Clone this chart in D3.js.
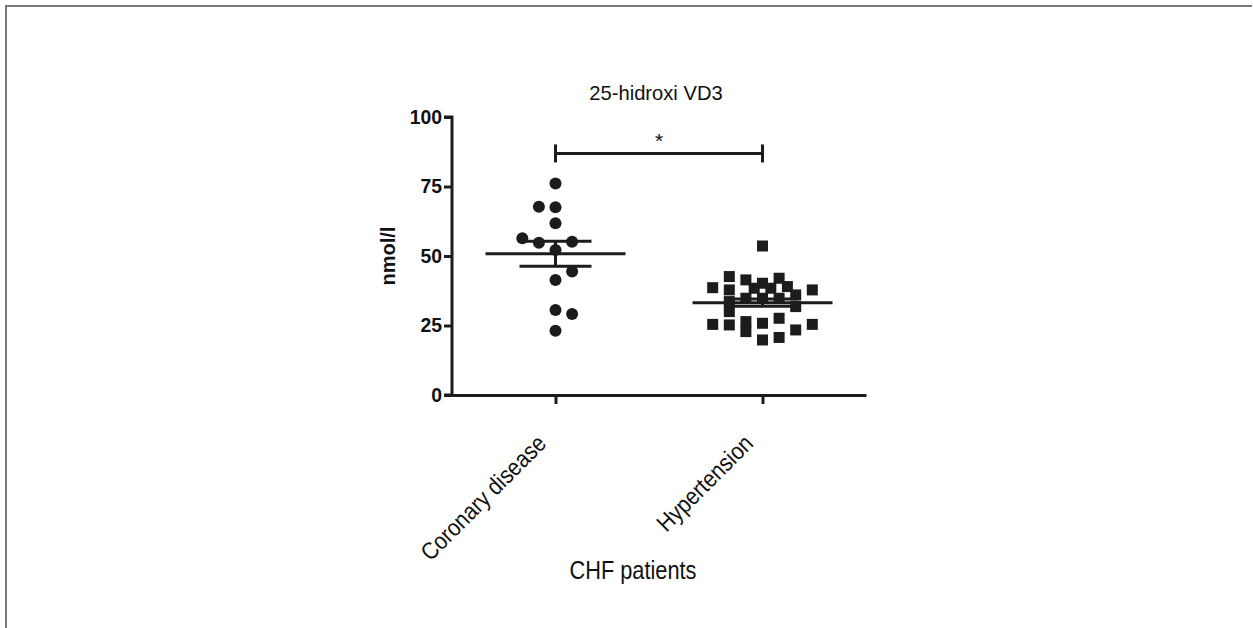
<!DOCTYPE html>
<html>
<head>
<meta charset="utf-8">
<script src="https://cdn.jsdelivr.net/npm/d3@7"></script>
<style>
  html, body { margin: 0; padding: 0; background: #fff; }
  svg { display: block; font-family: 'Liberation Sans', Arial, sans-serif; }
</style>
</head>
<body>
<script>
// groups on the x axis
const groups = ['Coronary disease', 'Hypertension']

// individual values (nmol/l) and their jitter column in the scatter
const coronaryValues = [76.1, 67.7, 67.5, 61.8, 56.4, 54.8, 55.1, 52.2, 44.4, 41.4, 30.6, 29.1, 23.1]
const coronarySlots = [0, -2, 0, 0, -4, -2, 2, 0, 2, 0, 0, 2, 0]

const hypertensionValues = [53.6, 38.6, 42.6, 37.8, 33.6, 30, 25.2, 41.4, 40.2, 42, 39, 36, 37.8, 38.4, 38.4,
  34.8, 34.8, 34.8, 31.8, 25.4, 26.4, 22.8, 25.8, 19.8, 27.6, 20.7, 23.4, 25.4]
const hypertensionSlots = [0, -6, -4, -4, -4, -4, -4, -2, 0, 2, 3, 4, 6, 1, -1,
  -2, 0, 2, 4, -6, -2, -2, 0, 0, 2, 2, 4, 6]

// mean and standard error per group
const means = [50.8, 33.2]
const sems = [4.5, 1.3]

const yTicks = [0, 25, 50, 75, 100]
const significance = { from: 'Coronary disease', to: 'Hypertension', value: 86.9, label: '*' }

const title = '25-hidroxi VD3'
const yAxisTitle = 'nmol/l'
const xAxisTitle = 'CHF patients'

const width = 1253
const height = 628
const margin = { top: 117, left: 452, right: 387, bottom: 233 }
const innerHeight = height - margin.top - margin.bottom
const innerWidth = width - margin.left - margin.right
const ink = '#1c1c1c'

// the original uses a narrow sans, so squeeze plain text a little
const condense = (sel, k) => sel.each(function () {
  const len = this.getComputedTextLength()
  d3.select(this)
    .attr('textLength', len * k)
    .attr('lengthAdjust', 'spacingAndGlyphs')
})

const svg = d3.select('body')
  .append('svg')
  .attr('width', width)
  .attr('height', height)
  .attr('viewBox', `0 0 ${width} ${height}`)

// frame around the figure (top and left only)
svg.append('path')
  .attr('d', `M6,${height} V6 H1252`)
  .attr('fill', 'none')
  .attr('stroke', '#7a7a7a')
  .attr('stroke-width', 2)

const main = svg.append('g')
  .attr('transform', `translate(${margin.left}, ${margin.top})`)

const xScale = d3.scalePoint()
  .domain(groups)
  .range([0, innerWidth])
  .padding(0.5)

const yScale = d3.scaleLinear()
  .domain([0, 100])
  .range([innerHeight, 0])

const slotScale = d3.scaleLinear()
  .domain([-1, 1])
  .range([-8.3, 8.3])

const yAxis = d3.axisLeft(yScale)
  .tickValues(yTicks)
  .tickSize(8)
  .tickPadding(2)

const xAxis = d3.axisBottom(xScale)
  .tickSize(9)
  .tickSizeOuter(0)
  .tickFormat('')

const gy = main.append('g')
  .attr('font-family', null)
  .attr('font-size', null)
  .call(yAxis)
gy.attr('font-family', null).attr('font-size', 20).attr('font-weight', 'bold')
gy.select('.domain').attr('d', `M-8,${innerHeight}H0V0H-8`)
gy.selectAll('line, path').attr('stroke', ink).attr('stroke-width', 3)
gy.selectAll('.tick text').attr('fill', '#111').call(condense, 0.97)

const gx = main.append('g')
  .attr('transform', `translate(0, ${innerHeight})`)
  .call(xAxis)
gx.selectAll('line, path').attr('stroke', ink).attr('stroke-width', 3)

// rotated group labels
main.append('g')
  .selectAll('text')
  .data(groups)
  .enter()
  .append('text')
  .attr('transform', d => `translate(${xScale(d) - 8}, ${innerHeight + 50}) rotate(-45)`)
  .attr('text-anchor', 'end')
  .attr('font-size', 24)
  .attr('fill', '#111')
  .text(d => d)
  .call(condense, 0.88)

// titles
svg.append('text')
  .attr('x', 656)
  .attr('y', 100)
  .attr('text-anchor', 'middle')
  .attr('font-size', 21)
  .attr('fill', '#111')
  .text(title)
  .call(condense, 0.96)

svg.append('text')
  .attr('transform', `translate(395, ${margin.top + innerHeight / 2}) rotate(-90)`)
  .attr('text-anchor', 'middle')
  .attr('font-size', 21)
  .attr('font-weight', 'bold')
  .attr('fill', '#111')
  .text(yAxisTitle)
  .call(condense, 0.95)

svg.append('text')
  .attr('x', 633)
  .attr('y', 579)
  .attr('text-anchor', 'middle')
  .attr('font-size', 25)
  .attr('fill', '#111')
  .text(xAxisTitle)
  .call(condense, 0.87)

// points
const coronary = coronaryValues.map((v, i) => ({ value: v, slot: coronarySlots[i] }))
const hypertension = hypertensionValues.map((v, i) => ({ value: v, slot: hypertensionSlots[i] }))

main.append('g')
  .selectAll('circle')
  .data(coronary)
  .enter()
  .append('circle')
  .attr('cx', d => xScale(groups[0]) + slotScale(d.slot / 2) * 2)
  .attr('cy', d => yScale(d.value))
  .attr('r', 6)
  .attr('fill', ink)

const side = 11
main.append('g')
  .selectAll('rect')
  .data(hypertension)
  .enter()
  .append('rect')
  .attr('x', d => xScale(groups[1]) + slotScale(d.slot / 2) * 2 - side / 2)
  .attr('y', d => yScale(d.value) - side / 2)
  .attr('width', side)
  .attr('height', side)
  .attr('fill', ink)

// mean and SEM bars
const stats = groups.map((g, i) => ({ group: g, mean: means[i], sem: sems[i] }))
const bars = main.append('g')
  .attr('stroke', ink)
  .attr('stroke-width', 3)
  .selectAll('g')
  .data(stats)
  .enter()
  .append('g')

bars.append('line')
  .attr('x1', d => xScale(d.group) - 70)
  .attr('x2', d => xScale(d.group) + 70)
  .attr('y1', d => yScale(d.mean))
  .attr('y2', d => yScale(d.mean))

bars.append('line')
  .attr('x1', d => xScale(d.group))
  .attr('x2', d => xScale(d.group))
  .attr('y1', d => yScale(d.mean - d.sem))
  .attr('y2', d => yScale(d.mean + d.sem))

bars.selectAll('.cap')
  .data(d => [d.mean - d.sem, d.mean + d.sem].map(v => ({ group: d.group, v })))
  .enter()
  .append('line')
  .attr('class', 'cap')
  .attr('x1', d => xScale(d.group) - 36)
  .attr('x2', d => xScale(d.group) + 36)
  .attr('y1', d => yScale(d.v))
  .attr('y2', d => yScale(d.v))

// significance bracket
const sig = main.append('g')
  .attr('stroke', ink)
  .attr('stroke-width', 3)
sig.append('line')
  .attr('x1', xScale(significance.from))
  .attr('x2', xScale(significance.to))
  .attr('y1', yScale(significance.value))
  .attr('y2', yScale(significance.value))
sig.selectAll('.end')
  .data([significance.from, significance.to])
  .enter()
  .append('line')
  .attr('x1', d => xScale(d))
  .attr('x2', d => xScale(d))
  .attr('y1', yScale(significance.value) - 9)
  .attr('y2', yScale(significance.value) + 9)

main.append('text')
  .attr('x', (xScale(significance.from) + xScale(significance.to)) / 2)
  .attr('y', yScale(significance.value) - 5)
  .attr('text-anchor', 'middle')
  .attr('font-size', 21)
  .attr('fill', '#111')
  .text(significance.label)
</script>
</body>
</html>
